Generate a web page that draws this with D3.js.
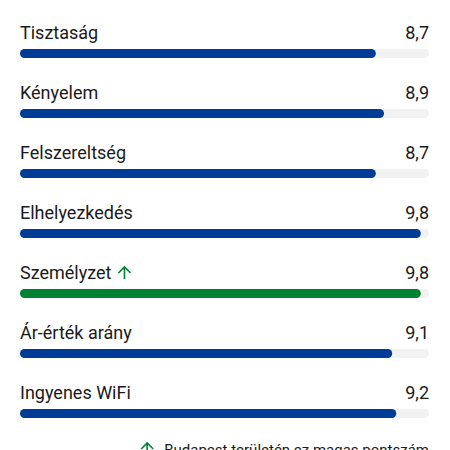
<!DOCTYPE html>
<html>
<head>
<meta charset="utf-8">
<script src="https://cdn.jsdelivr.net/npm/d3@7"></script>
<style>
  html, body { margin: 0; padding: 0; background: #fff; }
  svg { display: block; font-family: Roboto, "Noto Sans", sans-serif; }
</style>
</head>
<body>
<div id="chart"></div>
<script>
const categories = ['Tisztaság', 'Kényelem', 'Felszereltség', 'Elhelyezkedés', 'Személyzet', 'Ár-érték arány', 'Ingyenes WiFi'];
const scores = [8.7, 8.9, 8.7, 9.8, 9.8, 9.1, 9.2];
const highlighted = ['Személyzet'];
const scoreMax = 10;
const noteText = 'Budapest területén ez magas pontszám';

const w = 450;
const h = 450;
const blue = '#003b95';
const green = '#008234';

const rows = categories.map((c, i) => ({ cat: c, score: scores[i], high: highlighted.includes(c) }));

const svg = d3.select('#chart').append('svg')
  .attr('width', w)
  .attr('height', h);

const x = d3.scaleLinear().domain([0, scoreMax]).range([20, 429]);
const y = d3.scaleBand().domain(categories).range([14, 434]);

const fmt = v => d3.format('.1f')(v).replace('.', ',');

const row = svg.selectAll('.row')
  .data(rows)
  .enter()
    .append('g')
    .attr('class', 'row')
    .attr('transform', d => `translate(0, ${y(d.cat)})`);

// grey track behind each bar
row.append('rect')
  .attr('x', x(0))
  .attr('y', 35)
  .attr('width', x(scoreMax) - x(0))
  .attr('height', 9)
  .attr('rx', 4.5)
  .style('fill', '#f2f2f2');

row.append('rect')
  .attr('x', x(0))
  .attr('y', 35)
  .attr('width', d => x(d.score) - x(0))
  .attr('height', 9)
  .attr('rx', 4.5)
  .style('fill', d => d.high ? green : blue);

const labels = row.append('text')
  .attr('x', x(0))
  .attr('y', 25)
  .attr('font-size', 18)
  .style('fill', '#1a1a1a')
  .text(d => d.cat);

row.append('text')
  .attr('x', x(scoreMax))
  .attr('y', 25)
  .attr('text-anchor', 'end')
  .attr('font-size', 18)
  .style('fill', '#1a1a1a')
  .text(d => fmt(d.score));

// little up arrow next to highlighted labels
function arrow (g) {
  g.append('path')
    .attr('d', 'M7,0 L7,12 M1,6 L7,0 L13,6')
    .style('fill', 'none')
    .style('stroke', green)
    .style('stroke-width', 1.6);
}

labels.each(function (d) {
  if (!d.high) return;
  const len = this.getComputedTextLength();
  d3.select(this.parentNode)
    .append('g')
    .attr('transform', `translate(${x(0) + len + 6}, 13)`)
    .call(arrow);
});

// footnote, cut by the bottom edge
const note = svg.append('text')
  .attr('x', x(scoreMax))
  .attr('y', 455)
  .attr('text-anchor', 'end')
  .attr('font-size', 15)
  .style('fill', '#1a1a1a')
  .text(noteText);

const noteLen = note.node().getComputedTextLength();
svg.append('g')
  .attr('transform', `translate(${x(scoreMax) - noteLen - 24}, 443)`)
  .call(arrow);
</script>
</body>
</html>
